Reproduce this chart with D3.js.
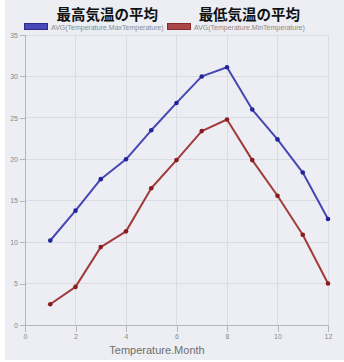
<!DOCTYPE html>
<html>
<head>
<meta charset="utf-8">
<script src="https://cdn.jsdelivr.net/npm/d3@7"></script>
<style>
  html, body { margin: 0; padding: 0; background: #ffffff; }
  svg { display: block; }
</style>
</head>
<body>
<svg id="chart" width="344" height="362"></svg>
<script>
// Monthly averages of daily max / min temperature
const months = [1, 2, 3, 4, 5, 6, 7, 8, 9, 10, 11, 12];
const maxTemp = [10.2, 13.8, 17.6, 20.0, 23.5, 26.8, 30.0, 31.1, 26.0, 22.4, 18.4, 12.8];
const minTemp = [2.5, 4.6, 9.4, 11.3, 16.5, 19.9, 23.4, 24.8, 19.9, 15.6, 10.9, 5.0];
const seriesTitles = ["最高気温の平均", "最低気温の平均"];
const seriesLabels = ["AVG(Temperature.MaxTemperature)", "AVG(Temperature.MinTemperature)"];
const xTicks = [0, 2, 4, 6, 8, 10, 12];
const yTicks = [0, 5, 10, 15, 20, 25, 30, 35];
const xTitle = "Temperature.Month";

const lineColors = ["#4646b4", "#a03c3c"];
const pointColors = ["#24249a", "#8a1c1c"];
const boxFill = ["#4848b8", "#a84848"];
const boxStroke = ["#2c2c8c", "#882c2c"];

const svg = d3.select("#chart");
const W = 344, H = 362;
const plot = { left: 25, right: 328, top: 35, bottom: 325 };

// panel background
svg.append("rect").attr("x", 5).attr("y", 0).attr("width", W - 5).attr("height", H - 2)
  .attr("fill", "#eceef3");

const x = d3.scaleLinear().domain([0, 12]).range([plot.left, plot.right]);
const y = d3.scaleLinear().domain([0, 35]).range([plot.bottom, plot.top]);

// grid
const grid = svg.append("g");
grid.selectAll("line.v").data(xTicks.slice(1)).join("line")
  .attr("x1", d => x(d)).attr("x2", d => x(d))
  .attr("y1", plot.top).attr("y2", plot.bottom)
  .attr("stroke", "#d9dce3").attr("stroke-width", 1).attr("shape-rendering", "crispEdges");
grid.selectAll("line.h").data(yTicks.slice(1)).join("line")
  .attr("x1", plot.left).attr("x2", plot.right)
  .attr("y1", d => y(d)).attr("y2", d => y(d))
  .attr("stroke", "#d9dce3").attr("stroke-width", 1).attr("shape-rendering", "crispEdges");

// axes
const xAxis = d3.axisBottom(x).tickValues(xTicks).tickSize(7).tickPadding(2);
const yAxis = d3.axisLeft(y).tickValues(yTicks).tickSize(5).tickPadding(2);

const gx = svg.append("g").attr("transform", `translate(0,${plot.bottom})`).call(xAxis);
const gy = svg.append("g").attr("transform", `translate(${plot.left},0)`).call(yAxis);
[gx, gy].forEach(g => {
  g.select(".domain").attr("stroke", "#b4b6bc").attr("shape-rendering", "crispEdges");
  g.selectAll(".tick line").attr("stroke", "#b4b6bc").attr("shape-rendering", "crispEdges");
  g.selectAll(".tick text").attr("fill", "#8a8a8a")
    .style("font-family", "'Liberation Sans', Arial, sans-serif").style("font-size", "7px");
});
gx.select(".domain").attr("d", `M${plot.left},0H${plot.right}`);
gy.select(".domain").attr("d", `M0,${plot.top}V${plot.bottom + 7}`);

svg.append("text").attr("x", 157).attr("y", 354).attr("text-anchor", "middle")
  .attr("fill", "#6e6e6e").style("font-family", "'Liberation Sans', Arial, sans-serif")
  .style("font-size", "11px").text(xTitle);

// series
const series = [maxTemp, minTemp];
const line = d3.line().x((d, i) => x(months[i])).y(d => y(d));
series.forEach((vals, s) => {
  svg.append("path").datum(vals).attr("d", line)
    .attr("fill", "none").attr("stroke", lineColors[s]).attr("stroke-width", 2)
    .attr("stroke-linejoin", "round");
  svg.append("g").selectAll("circle").data(vals).join("circle")
    .attr("cx", (d, i) => x(months[i])).attr("cy", d => y(d)).attr("r", 2.3)
    .attr("fill", pointColors[s]);
});

// legend
const legendX = [24, 167];
series.forEach((vals, s) => {
  const g = svg.append("g").attr("transform", `translate(${legendX[s]},0)`);
  g.append("rect").attr("x", 0.5).attr("y", 23.5).attr("width", 23).attr("height", 6)
    .attr("fill", boxFill[s]).attr("stroke", boxStroke[s]).attr("stroke-width", 1);
  const lbl = g.append("text").attr("x", 27).attr("y", 29.5)
    .attr("fill", "#8a8a8a").style("font-family", "'Liberation Sans', Arial, sans-serif")
    .style("font-size", "7px").text(seriesLabels[s]);
  const w = lbl.node().getComputedTextLength();
  g.append("text").attr("x", 27 + w / 2).attr("y", 19.5).attr("text-anchor", "middle")
    .attr("fill", "#111").style("font-family", "'Noto Sans CJK JP', sans-serif")
    .style("font-weight", "bold").style("font-size", "14.5px").text(seriesTitles[s]);
});
</script>
</body>
</html>
